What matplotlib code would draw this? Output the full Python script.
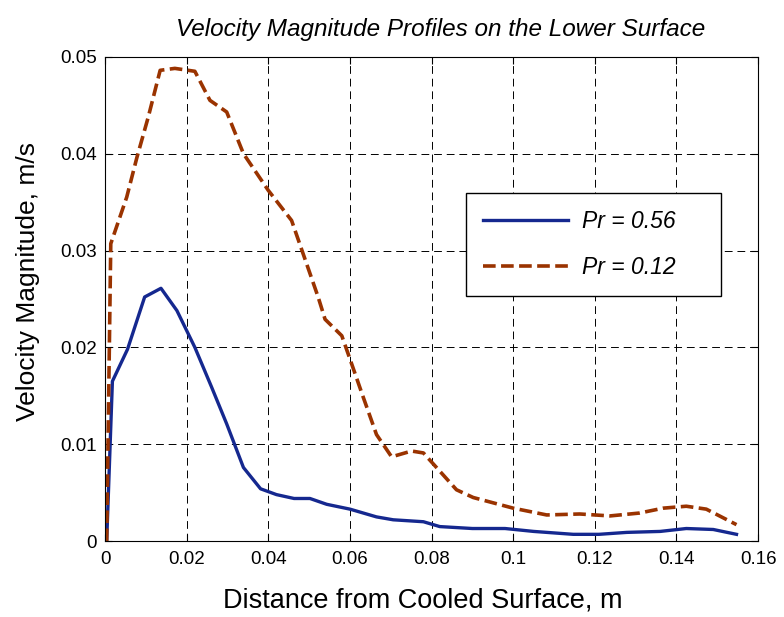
import matplotlib
matplotlib.use("Agg")
import matplotlib.pyplot as plt

plt.rcParams['font.family'] = ['Liberation Sans', 'DejaVu Sans']

# Pr = 0.56
x_056 = [0.0004, 0.0018, 0.0055, 0.0097, 0.0137, 0.0176, 0.022, 0.0261, 0.0298, 0.0339,
         0.0381, 0.042, 0.0463, 0.0502, 0.0543, 0.06, 0.0665, 0.0706, 0.078, 0.082,
         0.090, 0.098, 0.105, 0.1147, 0.121, 0.1278, 0.136, 0.1424, 0.149, 0.1547]
v_056 = [0.0, 0.0165, 0.0198, 0.0252, 0.0261, 0.0238, 0.0200, 0.0159, 0.0121, 0.0076,
         0.0054, 0.0048, 0.0044, 0.0044, 0.0038, 0.0033, 0.0025, 0.0022, 0.0020, 0.0015,
         0.0013, 0.0013, 0.0010, 0.0007, 0.0007, 0.0009, 0.0010, 0.0013, 0.0012, 0.0007]

# Pr = 0.12
x_012 = [0.0004, 0.0014, 0.0053, 0.0078, 0.0106, 0.0135, 0.0171, 0.022, 0.0257, 0.0298,
         0.0339, 0.040, 0.0457, 0.0522, 0.0539, 0.058, 0.060, 0.0633, 0.0665, 0.0702,
         0.0751, 0.078, 0.0812, 0.0861, 0.0902, 0.1, 0.1082, 0.1163, 0.1237, 0.131,
         0.1367, 0.1424, 0.1473, 0.1547]
v_012 = [0.0, 0.0307, 0.0355, 0.0396, 0.0438, 0.0486, 0.0488, 0.0485, 0.0455, 0.0443,
         0.0400, 0.0362, 0.0331, 0.0252, 0.0229, 0.0212, 0.0188, 0.0148, 0.0110, 0.0087,
         0.0093, 0.0091, 0.0076, 0.0053, 0.0045, 0.0034, 0.0027, 0.0028, 0.0026, 0.0029,
         0.0034, 0.0036, 0.0033, 0.0017]

xticks = [0, 0.02, 0.04, 0.06, 0.08, 0.1, 0.12, 0.14, 0.16]
xtick_labels = ['0', '0.02', '0.04', '0.06', '0.08', '0.1', '0.12', '0.14', '0.16']
yticks = [0, 0.01, 0.02, 0.03, 0.04, 0.05]
ytick_labels = ['0', '0.01', '0.02', '0.03', '0.04', '0.05']

fig = plt.figure(figsize=(7.84, 6.17), dpi=100)
ax = fig.add_axes([0.134, 0.123, 0.833, 0.785])

ax.plot(x_056, v_056, '-', color='#15288f', lw=2.4, label='Pr = 0.56')
ax.plot(x_012, v_012, '--', color='#9a3300', lw=2.6, dashes=(3.5, 1.5), label='Pr = 0.12')

ax.set_xlim(0, 0.16)
ax.set_ylim(0, 0.05)
ax.set_xticks(xticks)
ax.set_xticklabels(xtick_labels)
ax.set_yticks(yticks)
ax.set_yticklabels(ytick_labels)
ax.tick_params(direction='in', top=True, right=True, labelsize=13.5, length=5)
ax.tick_params(axis='x', pad=7)
ax.tick_params(axis='y', pad=6)
ax.grid(True, color='black', linestyle=(0, (8, 5)), linewidth=0.7)

ax.set_xlabel('Distance from Cooled Surface, m', fontsize=19.5)
ax.set_ylabel('Velocity Magnitude, m/s', fontsize=19)
ax.xaxis.set_label_coords(0.487, -0.095)
ax.yaxis.set_label_coords(-0.100, 0.535)
ax.set_title('Velocity Magnitude Profiles on the Lower Surface', fontsize=17.5,
             style='italic', pad=15, x=0.514)

leg = ax.legend(loc='upper left', bbox_to_anchor=(0.553, 0.506, 0.390, 0.213),
                mode='expand', fontsize=16.5, handlelength=3.7, handletextpad=0.6,
                fancybox=False, edgecolor='black', framealpha=1,
                borderpad=0.75, labelspacing=1.0, borderaxespad=0)
for t in leg.get_texts():
    t.set_style('italic')
leg.get_frame().set_linewidth(1.0)

fig.savefig('out.png', dpi=100)
